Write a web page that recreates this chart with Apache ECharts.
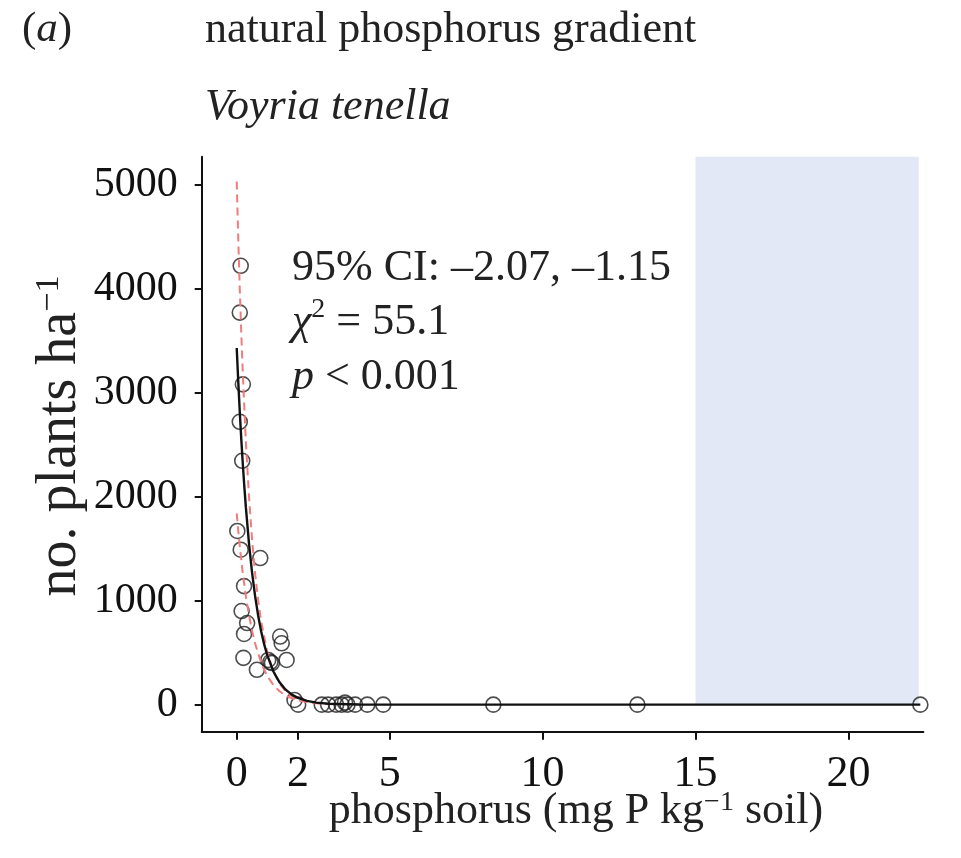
<!DOCTYPE html>
<html>
<head>
<meta charset="utf-8">
<script src="https://cdn.jsdelivr.net/npm/echarts@6/dist/echarts.min.js"></script>
<style>
html,body{margin:0;padding:0;background:#fff;}
#chart{width:961px;height:858px;}
</style>
</head>
<body>
<div id="chart"></div>
<script>
// ---- data ----
var xTicks = [0, 2, 5, 10, 15, 20];
var yTicks = [0, 1000, 2000, 3000, 4000, 5000];

var plantsX = [0.13, 0.10, 0.20, 0.10, 0.18, 0.02, 0.13, 0.77, 0.24, 0.16, 0.34, 0.24, 0.22, 0.66,
               1.03, 1.15, 1.10, 1.42, 1.47, 1.63, 1.89, 2.01, 2.78, 2.99, 3.25, 3.43, 3.54, 3.62,
               3.87, 4.27, 4.79, 8.39, 13.10, 22.35];
var plantsY = [4220, 3770, 3080, 2720, 2345, 1670, 1490, 1410, 1140, 900, 785, 680, 450, 335,
               430, 400, 410, 655, 590, 430, 45, 0, 0, 0, 0, 0, 20, 0,
               0, 0, 0, 0, 0, 0];

var fitX = [0, 0.05, 0.1, 0.15, 0.2, 0.25, 0.3, 0.4, 0.5, 0.6, 0.7, 0.8, 0.9, 1.0, 1.2, 1.4, 1.6, 1.8, 2.0, 2.3, 2.6, 3.0, 4.0, 22.35];
var fitY = [3430, 3107, 2814, 2548, 2309, 2091, 1894, 1554, 1275, 1046, 858, 704, 577, 474, 319, 215, 144, 97, 65, 36, 20, 9, 1, 0];

var upperX = [0, 0.05, 0.1, 0.15, 0.2, 0.3, 0.4, 0.5, 0.6, 0.7, 0.8, 1.0, 1.2, 1.4, 1.6, 1.8, 2.0, 2.4, 3.0];
var upperY = [5030, 4484, 3996, 3562, 3175, 2523, 2004, 1593, 1265, 1005, 799, 504, 319, 201, 127, 80, 51, 20, 5];

var lowerX = [0, 0.05, 0.1, 0.2, 0.3, 0.4, 0.5, 0.6, 0.8, 1.0, 1.2, 1.4, 1.6, 1.8, 2.0, 2.4, 3.0];
var lowerY = [1840, 1673, 1522, 1258, 1041, 861, 712, 588, 402, 275, 188, 129, 88, 60, 41, 19, 6];

var shadeX = [15, 22.3];

function pairs(xs, ys) { return xs.map(function (x, i) { return [x, ys[i]]; }); }

var FONT = '"Liberation Serif", "Times New Roman", serif';
var chart = echarts.init(document.getElementById('chart'), null, {renderer: 'canvas'});

var option = {
  animation: false,
  backgroundColor: '#ffffff',
  grid: {left: 201.7, right: 37.6, top: 156.7, bottom: 126.3, containLabel: false},
  xAxis: {
    type: 'value', min: -1.145, max: 22.45,
    axisLine: {show: true, onZero: false, lineStyle: {color: '#111', width: 2}},
    axisTick: {show: true, customValues: xTicks, length: 8, lineStyle: {color: '#111', width: 2}},
    axisLabel: {show: true, customValues: xTicks, margin: 21, color: '#111', fontFamily: FONT, fontSize: 44,
      formatter: function (v) { return String(v); }},
    splitLine: {show: false}
  },
  yAxis: {
    type: 'value', min: -260, max: 5269,
    axisLine: {show: true, onZero: false, lineStyle: {color: '#111', width: 2}},
    axisTick: {show: true, customValues: yTicks, length: 7, lineStyle: {color: '#111', width: 2}},
    axisLabel: {show: true, customValues: yTicks, margin: 24, color: '#111', fontFamily: FONT, fontSize: 42,
      formatter: function (v) { return String(v); }},
    splitLine: {show: false}
  },
  series: [
    {
      type: 'line', name: 'shade', data: [], silent: true,
      markArea: {
        silent: true,
        itemStyle: {color: '#e3e8f6'},
        data: [[{coord: [shadeX[0], 0]}, {coord: [shadeX[1], 5269]}]]
      }
    },
    {
      type: 'line', name: 'upper', data: pairs(upperX, upperY), showSymbol: false, silent: true,
      lineStyle: {color: '#f07c7c', width: 2, type: [8, 5]}
    },
    {
      type: 'line', name: 'lower', data: pairs(lowerX, lowerY), showSymbol: false, silent: true,
      lineStyle: {color: '#f07c7c', width: 2, type: [8, 5]}
    },
    {
      type: 'scatter', name: 'plants', data: pairs(plantsX, plantsY), symbol: 'circle', symbolSize: 15,
      itemStyle: {color: 'rgba(0,0,0,0)', borderColor: '#222', borderWidth: 1.6}
    },
    {
      type: 'line', name: 'fit', data: pairs(fitX, fitY), showSymbol: false, silent: true,
      lineStyle: {color: '#111', width: 2.4}
    }
  ],
  graphic: [
    {type: 'text', x: 22, y: 30, style: {text: '({i|a})', fontFamily: FONT, fontSize: 43, fill: '#222', verticalAlign: 'middle',
      rich: {i: {fontFamily: FONT, fontSize: 43, fontStyle: 'italic', fill: '#222'}}}},
    {type: 'text', x: 205, y: 30, style: {text: 'natural phosphorus gradient', fontFamily: FONT, fontSize: 44, fill: '#222', align: 'left', verticalAlign: 'middle'}},
    {type: 'text', x: 205, y: 107, style: {text: 'Voyria tenella', fontFamily: FONT, fontSize: 44, fontStyle: 'italic', fill: '#222', align: 'left', verticalAlign: 'middle'}},
    {type: 'text', x: 292, y: 268, style: {text: '95% CI: \u20132.07, \u20131.15', fontFamily: FONT, fontSize: 44, fill: '#222', align: 'left', verticalAlign: 'middle'}},
    {type: 'text', x: 292, y: 322, style: {text: '{i|\u03c7}{s|2} = 55.1', fontFamily: FONT, fontSize: 44, fill: '#222', align: 'left', verticalAlign: 'middle',
      rich: {i: {fontFamily: FONT, fontSize: 44, fontStyle: 'italic', fill: '#222', lineHeight: 52},
             s: {fontFamily: FONT, fontSize: 28, fill: '#222', verticalAlign: 'top', lineHeight: 28}}}},
    {type: 'text', x: 292, y: 377, style: {text: '{i|p} < 0.001', fontFamily: FONT, fontSize: 44, fill: '#222', align: 'left', verticalAlign: 'middle',
      rich: {i: {fontFamily: FONT, fontSize: 44, fontStyle: 'italic', fill: '#222'}}}},
    {type: 'text', x: 576, y: 811, style: {text: 'phosphorus (mg P kg{s|\u22121} soil)', fontFamily: FONT, fontSize: 44, fill: '#222', align: 'center', verticalAlign: 'middle',
      rich: {s: {fontFamily: FONT, fontSize: 28, fill: '#222', verticalAlign: 'top', lineHeight: 28}}}},
    {type: 'text', x: 60, y: 436, rotation: Math.PI / 2, style: {text: 'no. plants ha{s|\u22121}', fontFamily: FONT, fontSize: 56, fill: '#222', align: 'center', verticalAlign: 'middle',
      rich: {s: {fontFamily: FONT, fontSize: 34, fill: '#222', verticalAlign: 'top', lineHeight: 34}}}}
  ]
};
chart.setOption(option);
</script>
</body>
</html>
